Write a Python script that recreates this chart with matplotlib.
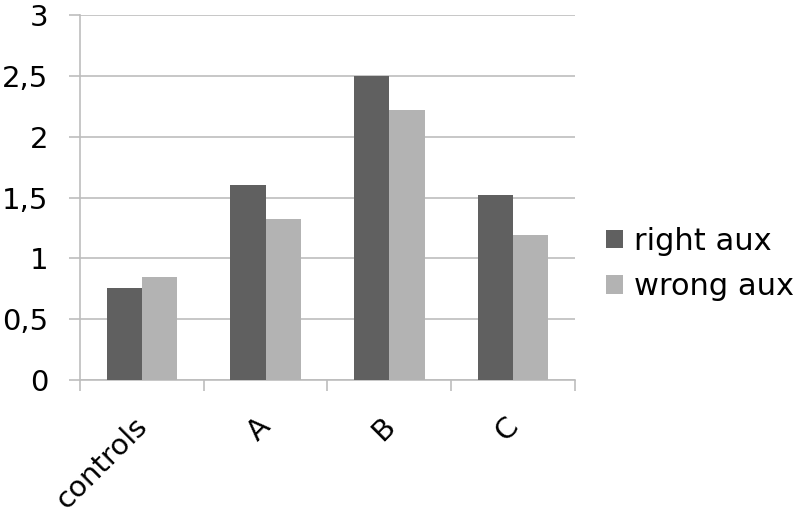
import matplotlib

matplotlib.use("Agg")
import matplotlib.pyplot as plt
import numpy as np

categories = ["controls", "A", "B", "C"]
right_aux = [0.76, 1.60, 2.50, 1.52]
wrong_aux = [0.85, 1.32, 2.22, 1.19]
yticks = [0, 0.5, 1, 1.5, 2, 2.5, 3]
ytick_labels = ["0", "0,5", "1", "1,5", "2", "2,5", "3"]

DARK = "#606060"
LIGHT = "#b3b3b3"
GRID = "#bdbdbd"
FS = 21

plt.rcParams["font.family"] = ["DejaVu Sans"]

fig = plt.figure(figsize=(7.93, 5.15), dpi=100)
ax = fig.add_axes([80 / 793, 1 - 380 / 515, 495 / 793, 365 / 515])

x = np.arange(len(categories))
w = 0.285
ax.bar(x - w / 2, right_aux, w, color=DARK, label="right aux", zorder=3)
ax.bar(x + w / 2, wrong_aux, w, color=LIGHT, label="wrong aux", zorder=3)

ax.set_xlim(-0.5, len(categories) - 0.5)
ax.set_ylim(0, 3)
ax.set_yticks(yticks)
ax.set_yticklabels(ytick_labels, fontsize=FS)
ax.yaxis.grid(True, color=GRID, linewidth=1.2, zorder=0)

# boundary ticks between categories, labels placed under each group
ax.set_xticks(np.arange(len(categories) + 1) - 0.5)
ax.set_xticklabels([])
for i, cat in enumerate(categories):
    ax.annotate(cat, xy=(x[i], 0), xycoords=("data", "axes fraction"),
                xytext=(-9, -32), textcoords="offset pixels",
                ha="right", va="top", rotation=45, rotation_mode="anchor",
                fontsize=FS)
ax.tick_params(axis="x", which="major", length=8, color=GRID, width=1.2)
ax.tick_params(axis="y", length=8, color=GRID, width=1.2, pad=15)

for side in ["top", "right"]:
    ax.spines[side].set_visible(False)
for side in ["left", "bottom"]:
    ax.spines[side].set_color(GRID)
    ax.spines[side].set_linewidth(1.2)

ax.legend(loc="center left", bbox_to_anchor=(1.008, 0.318), frameon=False,
          fontsize=22, handlelength=0.55, handleheight=0.55, handletextpad=0.35,
          labelspacing=0.55)

fig.savefig("out.png", dpi=100)
